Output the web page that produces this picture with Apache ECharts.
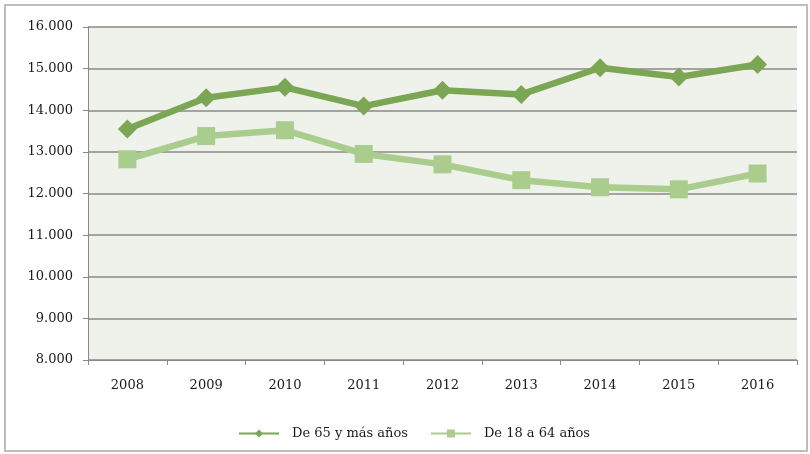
<!DOCTYPE html>
<html><head><meta charset="utf-8">
<script src="https://cdn.jsdelivr.net/npm/echarts@6/dist/echarts.min.js"></script>
<style>html,body{margin:0;padding:0;background:#fff}#c{width:810px;height:454px}</style>
</head><body><div id="c"></div>
<script>
const categories = ['2008','2009','2010','2011','2012','2013','2014','2015','2016'];
const seniors = [13550, 14300, 14550, 14100, 14480, 14380, 15020, 14800, 15100];
const adults = [12820, 13380, 13520, 12950, 12700, 12320, 12150, 12100, 12480];
const seriesNames = ['De 65 y más años', 'De 18 a 64 años'];

const chart = echarts.init(document.getElementById('c'));
const font = 'DejaVu Serif';
const fmt = v => String(v).replace(/\B(?=(\d{3})+(?!\d))/g, '.');
chart.setOption({
  animation: false,
  backgroundColor: '#fff',
  graphic: [{type:'rect', shape:{x:5,y:5,width:802,height:446}, style:{fill:null, stroke:'#bdbdbd', lineWidth:2}, silent:true}],
  grid: {left: 88, right: 13, top: 27, bottom: 94, show: true, backgroundColor: '#eff2ea', borderWidth: 0},
  legend: {
    bottom: 9, left: 233, itemGap: 22, itemWidth: 40, itemHeight: 10,
    textStyle: {fontFamily: font, fontSize: 13, color: '#1a1a1a', padding: [0, 0, 0, 8]},
    data: seriesNames
  },
  xAxis: {
    type: 'category', data: categories, boundaryGap: true,
    axisLine: {lineStyle: {color: '#888', width: 1}},
    axisTick: {show: true, length: 5, lineStyle: {color: '#888'}},
    axisLabel: {fontFamily: font, fontSize: 13, color: '#1a1a1a', margin: 19}
  },
  yAxis: {
    type: 'value', min: 8000, max: 16000, interval: 1000,
    axisLine: {show: true, lineStyle: {color: '#888'}},
    axisTick: {show: true, length: 5, lineStyle: {color: '#888'}},
    splitLine: {lineStyle: {color: '#8a8a8a', width: 1.5}},
    axisLabel: {fontFamily: font, fontSize: 13, color: '#1a1a1a', margin: 15, formatter: fmt}
  },
  series: [
    {name: seriesNames[0], type: 'line', data: seniors, symbol: 'diamond', symbolSize: 19,
     lineStyle: {color: '#7ba654', width: 6.5}, itemStyle: {color: '#7ba654'}},
    {name: seriesNames[1], type: 'line', data: adults, symbol: 'rect', symbolSize: 18,
     lineStyle: {color: '#aacd8e', width: 6.5}, itemStyle: {color: '#aacd8e'}}
  ]
});
</script></body></html>
